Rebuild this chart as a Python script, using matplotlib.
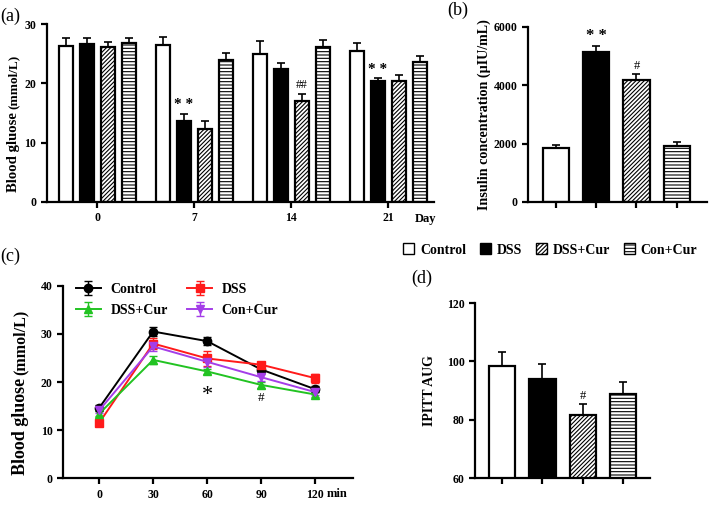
import numpy as np
import matplotlib
matplotlib.use("Agg")
import matplotlib.pyplot as plt
from matplotlib.patches import Patch

plt.rcParams['font.family'] = ['Liberation Serif', 'DejaVu Serif']
plt.rcParams['font.weight'] = 'bold'
plt.rcParams['axes.labelweight'] = 'bold'
plt.rcParams['hatch.linewidth'] = 0.8

groups = ['Control', 'DSS', 'DSS+Cur', 'Con+Cur']

# (a) blood glucose by day
days = ['0', '7', '14', '21']
glu_mean = {
    'Control': [26.4, 26.5, 25.0, 25.5],
    'DSS':     [26.6, 13.7, 22.5, 20.4],
    'DSS+Cur': [26.1, 12.4, 17.0, 20.4],
    'Con+Cur': [26.9, 24.0, 26.1, 23.6],
}
glu_err = {
    'Control': [1.3, 1.4, 2.1, 1.3],
    'DSS':     [1.1, 1.1, 1.0, 0.6],
    'DSS+Cur': [0.9, 1.2, 1.3, 1.0],
    'Con+Cur': [0.8, 1.2, 1.2, 1.1],
}

# (b) insulin
ins_mean = [1850, 5140, 4170, 1920]
ins_err = [95, 205, 205, 135]

# (c) IPITT curves
times = [0, 30, 60, 90, 120]
ipitt_mean = {
    'Control': [14.6, 30.5, 28.5, 22.6, 18.5],
    'DSS':     [11.5, 28.0, 24.9, 23.6, 20.8],
    'DSS+Cur': [13.4, 24.6, 22.2, 19.4, 17.4],
    'Con+Cur': [14.1, 27.4, 24.2, 21.0, 17.9],
}
ipitt_err = {
    'Control': [0.6, 1.0, 0.9, 0.7, 0.6],
    'DSS':     [0.6, 1.1, 1.6, 0.6, 0.9],
    'DSS+Cur': [0.5, 0.8, 0.6, 0.7, 0.5],
    'Con+Cur': [0.5, 1.0, 1.0, 0.7, 0.5],
}

# (d) AUC
auc_mean = [98.4, 93.9, 81.8, 88.8]
auc_err = [4.9, 5.2, 3.6, 4.1]

fills = {'Control': 'white', 'DSS': 'black', 'DSS+Cur': 'white', 'Con+Cur': 'white'}
hatches = {'Control': None, 'DSS': None, 'DSS+Cur': '////////', 'Con+Cur': '-----'}
line_cols = {'Control': 'black', 'DSS': '#ff1a1a', 'DSS+Cur': '#22c322', 'Con+Cur': '#a43ee8'}
markers = {'Control': 'o', 'DSS': 's', 'DSS+Cur': '^', 'Con+Cur': 'v'}

tick_fs = 8.5
fig = plt.figure(figsize=(7.09, 5.05), dpi=100)


def style(ax):
    for s in ['top', 'right']:
        ax.spines[s].set_visible(False)
    for s in ['left', 'bottom']:
        ax.spines[s].set_linewidth(1.6)
    ax.tick_params(width=1.6, length=4, labelsize=tick_fs)
    for lab in ax.get_xticklabels() + ax.get_yticklabels():
        lab.set_fontweight('bold')


def bars(ax, x, h, e, g, w):
    ax.bar(x, h, w, color=fills[g], edgecolor='black', linewidth=1.6,
           hatch=hatches[g], zorder=2)
    ax.errorbar(x, h, yerr=[np.zeros(len(np.atleast_1d(h))), e], fmt='none',
                ecolor='black', elinewidth=1.2, capsize=3, capthick=1.2, zorder=1)


# ---- (a)
axa = fig.add_axes([0.066, 0.600, 0.546, 0.352])
xa = np.arange(len(days))
off = [-1.5, -0.5, 0.5, 1.5]
for i, g in enumerate(groups):
    bars(axa, xa + off[i] * 0.216, glu_mean[g], glu_err[g], g, 0.145)
axa.set_xlim(-0.52, 3.47)
axa.set_ylim(0, 30)
axa.set_yticks([0, 10, 20, 30])
axa.set_xticks(xa)
axa.set_xticklabels(days)
style(axa)
axa.text(3.38, -2.9, 'Day', ha='center', va='center', fontsize=tick_fs + 0.5)
axa.text(1 - 0.5 * 0.216, 14.8 + 0.6, '* *', ha='center', va='bottom', fontsize=11)
axa.text(3 - 0.5 * 0.216, 21.0 + 0.3, '* *', ha='center', va='bottom', fontsize=11)
axa.text(2 + 0.5 * 0.216, 18.3 + 0.4, '##', ha='center', va='bottom', fontsize=8.5,
         fontweight='normal')
fig.text(0.019, 0.620, 'Blood gluose', rotation=90, ha='center', va='bottom', fontsize=10.6)
fig.text(0.019, 0.784, '(mmol/L)', rotation=90, ha='center', va='bottom', fontsize=9.5)
fig.text(0.0, 0.985, '(a)', ha='left', va='top', fontsize=13, fontweight='normal')

# ---- (b)
axb = fig.add_axes([0.745, 0.600, 0.252, 0.347])
xb = np.arange(len(groups))
for i, g in enumerate(groups):
    bars(axb, [xb[i]], [ins_mean[i]], [ins_err[i]], g, 0.65)
axb.set_xlim(-0.69, 3.75)
axb.set_ylim(0, 6000)
axb.set_yticks([0, 2000, 4000, 6000])
axb.set_xticks(xb)
axb.set_xticklabels([])
style(axb)
axb.set_ylabel('Insulin concentration (\u03bcIU/mL)', fontsize=10.2, labelpad=2)
axb.text(1, ins_mean[1] + ins_err[1] + 60, '* *', ha='center', va='bottom', fontsize=12)
axb.text(2, ins_mean[2] + ins_err[2] + 60, '#', ha='center', va='bottom', fontsize=9,
         fontweight='normal')
fig.text(0.646, 0.997, '(b)', ha='center', va='top', fontsize=13, fontweight='normal')

# shared legend
handles = [Patch(facecolor=fills[g], edgecolor='black', hatch=hatches[g], linewidth=1.0)
           for g in groups]
fig.legend(handles, groups, loc='center', bbox_to_anchor=(0.776, 0.505), ncol=4,
           frameon=False, handlelength=0.8, handleheight=0.8,
           handletextpad=0.4, columnspacing=1.0, prop={'weight': 'bold', 'size': 10})

# ---- (c)
axc = fig.add_axes([0.089, 0.053, 0.409, 0.381])
lines = {}
for g in groups:
    lines[g] = axc.errorbar(times, ipitt_mean[g], yerr=ipitt_err[g], color=line_cols[g],
                            marker=markers[g], markersize=6, linewidth=1.4, elinewidth=1.0,
                            capsize=3, label=g)
axc.set_xlim(-20, 141)
axc.set_ylim(0, 40)
axc.set_yticks([0, 10, 20, 30, 40])
axc.set_xticks(times)
style(axc)
axc.text(132, -3.2, 'min', ha='center', va='center', fontsize=tick_fs + 0.5)
axc.text(60, 17.2, '*', ha='center', va='center', fontsize=16, fontweight='normal')
axc.text(90, 16.6, '#', ha='center', va='center', fontsize=9.5, fontweight='normal')
order = ['Control', 'DSS+Cur', 'DSS', 'Con+Cur']
axc.legend([lines[g] for g in order], order, loc='upper left',
           bbox_to_anchor=(0.0, 1.08), ncol=2, frameon=False,
           prop={'weight': 'bold', 'size': 10}, handlelength=1.8, handletextpad=0.7,
           columnspacing=1.4, labelspacing=0.55)
fig.text(0.029, 0.059, 'Blood gluose', rotation=90, ha='center', va='bottom', fontsize=13)
fig.text(0.029, 0.258, '(mmol/L)', rotation=90, ha='center', va='bottom', fontsize=11.5)
fig.text(0.0, 0.51, '(c)', ha='left', va='top', fontsize=13, fontweight='normal')

# ---- (d)
axd = fig.add_axes([0.670, 0.053, 0.247, 0.347])
xd = np.arange(len(groups))
for i, g in enumerate(groups):
    bars(axd, [xd[i]], [auc_mean[i]], [auc_err[i]], g, 0.65)
axd.set_xlim(-0.67, 3.67)
axd.set_ylim(60, 120)
axd.set_yticks([60, 80, 100, 120])
axd.set_xticks(xd)
axd.set_xticklabels([])
style(axd)
axd.set_ylabel('IPITT AUG', fontsize=10, labelpad=8)
axd.text(2, auc_mean[2] + auc_err[2] + 0.8, '#', ha='center', va='bottom', fontsize=9,
         fontweight='normal')
fig.text(0.595, 0.465, '(d)', ha='center', va='top', fontsize=13, fontweight='normal')

fig.savefig('out.png', dpi=100)
